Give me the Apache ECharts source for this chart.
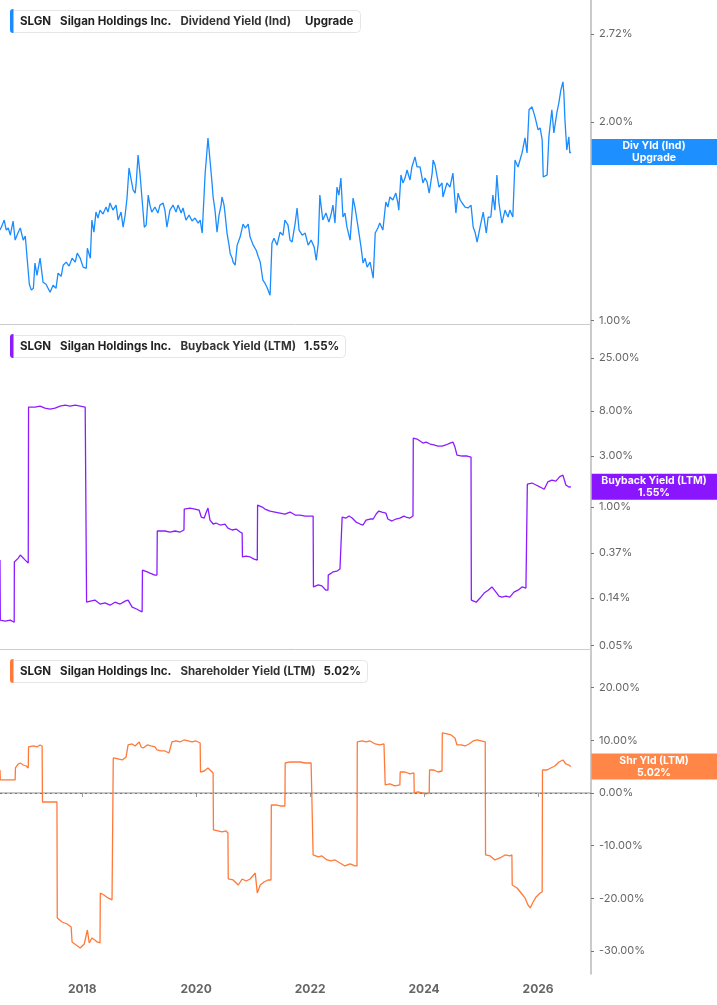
<!DOCTYPE html>
<html>
<head>
<meta charset="utf-8">
<title>SLGN yields</title>
<script src="https://cdn.jsdelivr.net/npm/echarts@6.0.0/dist/echarts.min.js"></script>
<style>
  html, body { margin: 0; padding: 0; background: #fff; }
  #chart { width: 717px; height: 1005px; }
</style>
</head>
<body>
<div id="chart"></div>
<script>
// Dividend Yield (Ind), %
const divDates = [
  '2016-07-23','2016-08-06','2016-08-19','2016-09-01','2016-09-14','2016-09-27','2016-10-15','2016-10-28','2016-11-17','2016-11-30','2016-12-19',
  '2017-01-01','2017-01-14','2017-01-27','2017-02-09','2017-02-22','2017-03-04','2017-03-17','2017-04-06','2017-04-25','2017-05-14','2017-06-09',
  '2017-06-28','2017-07-17','2017-07-30','2017-08-19','2017-09-01','2017-09-20','2017-10-09','2017-10-28','2017-11-17','2017-11-30','2017-12-19',
  '2018-01-07','2018-01-27','2018-02-03','2018-02-22','2018-03-04','2018-03-17','2018-03-30','2018-04-12','2018-04-25','2018-05-14','2018-06-03',
  '2018-06-15','2018-06-28','2018-07-17','2018-08-06','2018-08-19','2018-09-07','2018-09-20','2018-10-03','2018-10-15','2018-10-28','2018-11-11',
  '2018-11-23','2018-12-06','2018-12-12','2018-12-25','2019-01-07','2019-01-20','2019-02-03','2019-02-15','2019-02-28','2019-03-11','2019-03-23',
  '2019-04-12','2019-05-01','2019-05-14','2019-06-03','2019-06-15','2019-06-28','2019-07-17','2019-08-06','2019-08-25','2019-09-07','2019-09-27',
  '2019-10-09','2019-10-28','2019-11-17','2019-12-06','2019-12-25','2020-01-14','2020-01-27','2020-02-09','2020-02-28','2020-03-11','2020-03-17',
  '2020-03-30','2020-04-12','2020-04-19','2020-05-01','2020-05-14','2020-05-27','2020-06-09','2020-06-15','2020-06-28','2020-07-04','2020-07-17',
  '2020-07-30','2020-08-06','2020-08-19','2020-08-25','2020-09-07','2020-09-20','2020-10-09','2020-10-28','2020-11-11','2020-11-30','2020-12-12',
  '2021-01-01','2021-01-20','2021-02-03','2021-02-15','2021-03-04','2021-03-17','2021-03-30','2021-04-19','2021-05-01','2021-05-14','2021-06-03',
  '2021-06-22','2021-07-11','2021-07-23','2021-08-12','2021-08-25','2021-09-07','2021-09-27','2021-10-09','2021-10-22','2021-11-11','2021-11-30',
  '2021-12-19','2022-01-07','2022-01-27','2022-02-09','2022-02-22','2022-03-04','2022-03-23','2022-04-12','2022-05-01','2022-05-14','2022-05-27',
  '2022-06-09','2022-06-22','2022-07-04','2022-07-17','2022-07-30','2022-08-12','2022-08-25','2022-09-14','2022-10-03','2022-10-15','2022-11-04',
  '2022-11-23','2022-12-06','2022-12-19','2023-01-01','2023-01-20','2023-02-09','2023-02-22','2023-03-11','2023-03-23','2023-04-12','2023-05-01',
  '2023-05-14','2023-05-27','2023-06-15','2023-07-04','2023-07-17','2023-07-23','2023-08-06','2023-08-19','2023-09-01','2023-09-14','2023-10-03',
  '2023-10-15','2023-11-04','2023-11-17','2023-12-06','2023-12-25','2024-01-07','2024-01-20','2024-02-03','2024-02-22','2024-02-28','2024-03-11',
  '2024-03-23','2024-04-06','2024-04-25','2024-05-01','2024-05-14','2024-05-27','2024-06-15','2024-07-04','2024-07-23','2024-08-06','2024-08-19',
  '2024-09-01','2024-09-20','2024-10-09','2024-10-28','2024-11-11','2024-11-23','2024-12-06','2024-12-25','2025-01-14','2025-02-03','2025-02-15',
  '2025-03-04','2025-03-17','2025-03-30','2025-04-12','2025-04-25','2025-05-14','2025-06-03','2025-06-22','2025-07-04','2025-07-23','2025-08-06',
  '2025-08-25','2025-09-07','2025-09-20','2025-10-09','2025-10-22','2025-11-04','2025-11-23','2025-12-12','2026-01-01','2026-01-14','2026-01-27',
  '2026-02-03','2026-02-15','2026-02-28','2026-03-11','2026-03-30','2026-04-12','2026-05-01','2026-05-14','2026-05-27','2026-06-09','2026-06-15',
  '2026-06-22','2026-07-04','2026-07-17','2026-07-23','2026-07-30'
]
const divValues = [
  1.371,1.395,1.420,1.371,1.381,1.347,1.415,1.324,1.361,1.381,1.324,
  1.343,1.234,1.135,1.112,1.119,1.222,1.171,1.243,1.143,1.135,1.104,
  1.131,1.119,1.180,1.167,1.213,1.226,1.209,1.243,1.226,1.265,1.243,
  1.205,1.200,1.287,1.243,1.420,1.361,1.460,1.430,1.470,1.450,1.486,
  1.460,1.507,1.470,1.496,1.420,1.460,1.385,1.445,1.533,1.703,1.633,
  1.577,1.560,1.605,1.782,1.662,1.523,1.385,1.395,1.549,1.496,1.460,
  1.486,1.455,1.496,1.507,1.470,1.385,1.470,1.496,1.460,1.496,1.455,
  1.481,1.420,1.445,1.415,1.430,1.405,1.420,1.357,1.673,1.813,1.891,
  1.751,1.616,1.539,1.470,1.361,1.445,1.496,1.539,1.496,1.455,1.357,
  1.301,1.265,1.243,1.226,1.213,1.301,1.338,1.400,1.381,1.400,1.338,
  1.301,1.278,1.248,1.226,1.151,1.139,1.123,1.092,1.310,1.333,1.301,
  1.361,1.347,1.420,1.395,1.324,1.315,1.405,1.481,1.371,1.347,1.357,
  1.301,1.324,1.292,1.234,1.310,1.549,1.420,1.455,1.410,1.445,1.496,
  1.405,1.593,1.549,1.644,1.435,1.455,1.385,1.324,1.533,1.486,1.385,
  1.292,1.222,1.243,1.205,1.226,1.159,1.357,1.381,1.405,1.371,1.512,
  1.486,1.539,1.523,1.560,1.507,1.470,1.662,1.616,1.644,1.691,1.633,
  1.709,1.770,1.709,1.709,1.616,1.644,1.622,1.560,1.673,1.751,1.721,
  1.733,1.593,1.616,1.539,1.577,1.616,1.593,1.673,1.455,1.560,1.523,
  1.507,1.486,1.481,1.496,1.385,1.361,1.315,1.385,1.460,1.357,1.435,
  1.435,1.549,1.470,1.662,1.507,1.405,1.470,1.435,1.470,1.435,1.751,
  1.709,1.751,1.795,1.891,1.795,2.086,2.108,2.035,1.945,1.958,1.878,
  1.650,1.644,1.662,1.898,2.086,1.925,2.064,2.137,2.237,2.300,2.213,
  2.014,1.813,1.898,1.795,1.800
]

// Buyback Yield (LTM), %
const bbDates = [
  '2016-07-23','2016-07-25','2016-08-25','2016-09-27','2016-10-22','2016-10-23','2016-11-17','2016-11-30','2016-12-12','2017-01-01','2017-01-20',
  '2017-01-22','2017-03-04','2017-04-06','2017-05-07','2017-06-09','2017-07-11','2017-08-12','2017-09-14','2017-10-15','2017-11-17','2017-12-19',
  '2018-01-20','2018-01-27','2018-01-29','2018-02-22','2018-03-23','2018-04-25','2018-05-27','2018-06-28','2018-07-30','2018-09-01','2018-10-03',
  '2018-10-22','2018-11-17','2018-12-19','2019-01-07','2019-01-20','2019-01-22','2019-02-22','2019-03-11','2019-04-12','2019-04-25','2019-04-27',
  '2019-06-15','2019-07-17','2019-08-19','2019-09-20','2019-10-15','2019-10-17','2019-11-23','2019-12-25','2020-01-20','2020-02-03','2020-02-22',
  '2020-03-04','2020-03-17','2020-03-30','2020-04-19','2020-05-07','2020-06-03','2020-07-04','2020-07-23','2020-08-19','2020-09-14','2020-10-09',
  '2020-10-22','2020-10-24','2020-11-17','2020-12-12','2021-01-07','2021-01-27','2021-01-29','2021-02-28','2021-03-17','2021-04-19','2021-05-20',
  '2021-06-22','2021-07-23','2021-08-25','2021-09-27','2021-10-28','2021-11-30','2022-01-01','2022-01-20','2022-01-22','2022-02-22','2022-03-17',
  '2022-04-12','2022-04-25','2022-04-27','2022-05-27','2022-06-22','2022-07-11','2022-07-23','2022-07-25','2022-08-19','2022-09-07','2022-09-27',
  '2022-10-22','2022-11-17','2022-12-06','2022-12-25','2023-01-20','2023-02-09','2023-02-28','2023-03-17','2023-04-06','2023-05-01','2023-05-14',
  '2023-06-09','2023-07-04','2023-07-30','2023-08-25','2023-09-07','2023-10-03','2023-10-22','2023-10-24','2023-11-17','2023-12-06','2023-12-25',
  '2024-01-14','2024-02-09','2024-03-04','2024-03-30','2024-04-25','2024-05-20','2024-06-15','2024-07-04','2024-07-17','2024-07-30','2024-09-01',
  '2024-10-03','2024-10-28','2024-10-30','2024-11-30','2024-12-25','2025-01-20','2025-02-15','2025-03-11','2025-04-06','2025-04-25','2025-05-14',
  '2025-06-09','2025-07-04','2025-07-30','2025-08-25','2025-09-20','2025-10-15','2025-10-22','2025-10-24','2025-11-23','2025-12-19','2026-01-14',
  '2026-02-09','2026-03-04','2026-03-30','2026-04-25','2026-05-20','2026-06-09','2026-06-28','2026-07-17','2026-07-30'
]
const bbValues = [
  0.318,0.087,0.085,0.087,0.083,0.305,0.332,0.355,0.340,0.318,0.298,
  8.67,8.67,8.86,8.48,8.30,8.48,8.86,9.05,8.86,9.05,8.86,
  8.67,8.67,0.128,0.131,0.134,0.123,0.126,0.120,0.128,0.123,0.131,
  0.134,0.115,0.110,0.106,0.104,0.256,0.246,0.240,0.230,0.230,0.596,
  0.596,0.583,0.596,0.583,0.609,0.958,0.979,0.958,0.937,0.806,0.788,
  0.878,0.979,0.755,0.693,0.708,0.678,0.693,0.635,0.609,0.622,0.583,
  0.570,0.340,0.347,0.340,0.325,0.318,1.044,1.000,0.958,0.917,0.898,
  0.878,0.860,0.898,0.841,0.841,0.823,0.823,0.823,0.178,0.186,0.182,
  0.166,0.166,0.230,0.246,0.251,0.262,0.256,0.806,0.788,0.823,0.788,
  0.723,0.693,0.678,0.755,0.772,0.772,0.860,0.917,0.898,0.878,0.772,
  0.739,0.772,0.788,0.823,0.806,0.788,0.823,4.44,4.34,4.16,3.98,
  4.07,3.90,3.82,3.73,3.73,3.82,3.98,4.07,3.65,3.07,3.01,
  3.01,2.94,0.134,0.128,0.140,0.156,0.166,0.178,0.159,0.146,0.143,
  0.146,0.143,0.159,0.166,0.178,0.174,0.174,1.64,1.68,1.61,1.54,
  1.47,1.72,1.79,1.75,1.93,1.99,1.61,1.54,1.55
]

// Shareholder Yield (LTM), %
const shrDates = [
  '2016-07-23','2016-07-25','2016-08-25','2016-09-27','2016-10-28','2016-10-30','2016-11-17','2016-11-30','2016-12-19','2017-01-07','2017-01-20',
  '2017-01-22','2017-02-22','2017-03-17','2017-04-06','2017-04-19','2017-04-21','2017-06-09','2017-07-23','2017-07-25','2017-08-25','2017-09-27',
  '2017-10-22','2017-10-28','2017-11-23','2017-12-19','2018-01-14','2018-02-03','2018-02-15','2018-03-04','2018-03-23','2018-04-06','2018-04-25',
  '2018-04-27','2018-05-20','2018-06-15','2018-07-11','2018-07-17','2018-07-19','2018-08-19','2018-09-14','2018-10-09','2018-10-22','2018-11-17',
  '2018-12-06','2019-01-01','2019-01-14','2019-01-27','2019-02-22','2019-03-17','2019-04-12','2019-04-25','2019-05-20','2019-06-15','2019-07-11',
  '2019-07-23','2019-07-30','2019-08-25','2019-09-20','2019-10-15','2019-11-11','2019-12-06','2020-01-01','2020-01-27','2020-01-29','2020-02-22',
  '2020-03-17','2020-04-06','2020-04-19','2020-04-21','2020-05-20','2020-06-15','2020-07-11','2020-07-23','2020-07-25','2020-08-25','2020-09-27',
  '2020-10-22','2020-11-17','2020-12-12','2021-01-14','2021-01-27','2021-02-15','2021-03-11','2021-04-06','2021-04-25','2021-04-27','2021-05-27',
  '2021-06-22','2021-07-23','2021-07-25','2021-08-25','2021-09-27','2021-10-28','2021-11-30','2022-01-07','2022-01-18','2022-01-20','2022-02-22',
  '2022-03-17','2022-04-19','2022-05-14','2022-06-09','2022-07-11','2022-08-12','2022-09-14','2022-10-15','2022-10-28','2022-10-30','2022-11-30',
  '2022-12-25','2023-01-20','2023-02-22','2023-03-23','2023-04-19','2023-04-25','2023-04-27','2023-05-27','2023-06-28','2023-07-30','2023-08-01',
  '2023-09-01','2023-10-03','2023-10-28','2023-10-30','2023-11-23','2023-12-19','2024-01-14','2024-02-03','2024-02-05','2024-03-04','2024-03-30',
  '2024-04-25','2024-04-27','2024-05-27','2024-06-22','2024-07-17','2024-07-30','2024-08-25','2024-09-20','2024-10-15','2024-11-11','2024-12-06',
  '2025-01-01','2025-01-27','2025-01-29','2025-02-28','2025-03-30','2025-05-01','2025-06-03','2025-07-04','2025-07-17','2025-07-19','2025-08-19',
  '2025-09-14','2025-10-09','2025-10-28','2025-11-11','2025-11-30','2025-12-19','2026-01-14','2026-01-27','2026-01-29','2026-02-28','2026-03-23',
  '2026-04-19','2026-05-14','2026-06-09','2026-06-28','2026-07-17','2026-07-30'
]
const shrValues = [
  4.36,2.47,2.47,2.47,2.47,4.74,5.50,5.69,5.31,5.12,4.74,
  8.73,8.92,8.73,9.11,8.92,-1.71,-1.71,-1.71,-23.72,-24.48,-24.86,
  -25.43,-28.27,-28.84,-29.41,-28.65,-26.00,-28.46,-27.51,-27.89,-28.27,-28.46,
  -18.98,-19.35,-19.92,-20.30,-20.30,6.64,6.45,6.26,6.83,9.11,9.30,
  8.92,9.68,8.73,8.54,9.11,8.92,8.73,8.16,7.97,7.97,7.59,
  7.78,9.68,9.87,9.68,10.06,9.87,9.68,9.87,9.49,3.98,4.17,
  4.74,4.17,3.80,-7.02,-7.21,-7.40,-7.21,-7.59,-16.32,-16.51,-17.46,
  -16.32,-16.70,-16.32,-15.18,-18.98,-17.46,-16.89,-16.51,-16.51,-2.28,-2.28,
  -2.47,-2.47,5.69,5.88,5.88,5.88,5.69,5.69,5.69,-11.76,-12.14,
  -11.95,-12.71,-12.90,-12.71,-13.28,-13.85,-13.47,-13.85,-13.85,9.68,9.87,
  9.68,9.87,9.30,9.11,9.30,9.11,1.52,1.71,1.33,1.52,3.98,
  3.98,3.61,3.80,0,0.19,0,-0.19,0,4.36,4.36,3.98,
  4.17,11.39,11.20,11.01,10.44,9.11,9.11,8.92,9.30,9.87,10.06,
  9.87,9.68,-11.76,-11.95,-12.71,-12.33,-11.76,-11.95,-11.76,-17.46,-18.03,
  -18.98,-19.92,-21.25,-21.82,-20.68,-19.73,-18.98,-18.79,4.36,4.36,4.74,
  5.12,5.88,6.26,5.50,5.31,5.02
]

const yearTicks = ['2018-01-01', '2020-01-01', '2022-01-01', '2024-01-01', '2026-01-01']
const divTicks = [0.99, 1, 2, 2.72]
const bbTicks = [0.05, 0.14, 0.37, 1, 3, 8, 25]
const shrTicks = [-30, -20, -10, 0, 10, 20]

const panels = [
  { metric: 'Dividend Yield (Ind)', last: 'Upgrade', tag: 'Div Yld (Ind)\nUpgrade', color: '#1a8cff', tagColor: '#1e8fff',
    dates: divDates, values: divValues, ticks: divTicks, type: 'log', min: 0.988, max: 3.06 },
  { metric: 'Buyback Yield (LTM)', last: '1.55%', tag: 'Buyback Yield (LTM)\n1.55%', color: '#8c1cff', tagColor: '#8a16ff',
    dates: bbDates, values: bbValues, ticks: bbTicks, type: 'log', min: 0.0466, max: 51 },
  { metric: 'Shareholder Yield (LTM)', last: '5.02%', tag: 'Shr Yld (LTM)\n5.02%', color: '#ff7a3a', tagColor: '#ff8647',
    dates: shrDates, values: shrValues, ticks: shrTicks, type: 'value', min: -34.35, max: 27.13 }
]

const tops = [0, 325, 650]
const panelH = 324
const plotRight = 126
const font = 'Inter, "Noto Sans", sans-serif'
const ts = d => Date.parse(d)
const year = v => new Date(v).getUTCFullYear()

const chart = echarts.init(document.getElementById('chart'))

const option = {
  animation: false,
  backgroundColor: '#fff',
  title: panels.map((p, i) => ({
    left: 10,
    top: tops[i] + 9,
    padding: [6, 7, 5, 10],
    backgroundColor: '#fff',
    borderColor: '#e6e6e6',
    borderWidth: 1,
    borderRadius: 4,
    text: `{b|SLGN}{b2|Silgan Holdings Inc.}{n|${p.metric}}{v|${p.last}}`,
    textStyle: {
      rich: {
        b: { fontFamily: font, fontSize: 11.5, fontWeight: 'bold', color: '#222', lineHeight: 14 },
        b2: { fontFamily: font, fontSize: 11.5, fontWeight: 'bold', color: '#222', lineHeight: 14, padding: [0, 0, 0, 9] },
        n: { fontFamily: font, fontSize: 11.5, color: '#333', lineHeight: 14, padding: [0, 0, 0, 9] },
        v: { fontFamily: font, fontSize: 11.5, fontWeight: 'bold', color: '#222', lineHeight: 14, padding: [0, 0, 0, i === 0 ? 14 : 8] }
      }
    }
  })),
  grid: tops.map(t => ({ left: 0, right: plotRight, top: t, height: panelH })),
  xAxis: panels.map((p, i) => ({
    type: 'value',
    gridIndex: i,
    min: ts('2016-07-23'),
    max: ts('2026-12-06'),
    splitLine: { show: false },
    axisLine: { show: true, lineStyle: { color: i === 2 ? '#b4b4b4' : '#cccccc', width: i === 2 ? 1.5 : 1 } },
    axisTick: i === 2
      ? { show: true, length: 4, lineStyle: { color: '#999' }, customValues: yearTicks.map(ts) }
      : { show: false },
    axisLabel: i === 2
      ? {
          show: true, margin: 9, color: '#666', fontFamily: font, fontSize: 12, fontWeight: 'bold',
          customValues: yearTicks.map(ts),
          formatter: v => String(year(v))
        }
      : { show: false }
  })),
  yAxis: panels.map((p, i) => ({
    type: p.type,
    logBase: Math.E,
    gridIndex: i,
    position: 'right',
    min: p.min,
    max: p.max,
    splitLine: { show: false },
    axisLine: { show: true, lineStyle: { color: '#b8b8b8', width: 1.5 } },
    axisTick: { show: true, length: 3, lineStyle: { color: '#777' }, customValues: p.ticks },
    axisLabel: {
      margin: 8, color: '#666', fontFamily: font, fontSize: 11, hideOverlap: false,
      customValues: p.ticks,
      formatter: v => v.toFixed(2) + '%'
    }
  })),
  series: panels.map((p, i) => ({
    type: 'line',
    xAxisIndex: i,
    yAxisIndex: i,
    data: p.dates.map((d, k) => [ts(d), p.values[k]]),
    showSymbol: false,
    symbol: 'none',
    lineStyle: { color: p.color, width: 1.3 },
    itemStyle: { color: p.color },
    markLine: i === 2 ? {
      silent: true, symbol: 'none', label: { show: false },
      lineStyle: { color: '#777', type: [2, 3], width: 1 },
      data: [{ yAxis: 0 }]
    } : undefined
  }))
}

chart.setOption(option)

// value tags on the axis + colour bars of the legend boxes
const graphics = []
panels.forEach((p, i) => {
  graphics.push({
    type: 'rect', z: 100,
    shape: { x: 10, y: tops[i] + 9, width: 3.5, height: 24, r: [3, 0, 0, 3] },
    style: { fill: p.color }
  })
  const n = p.dates.length - 1
  const py = chart.convertToPixel({ gridIndex: i }, [ts(p.dates[n]), p.values[n]])[1]
  graphics.push({
    type: 'group', z: 100, x: 717 - plotRight, y: py - 13,
    children: [
      { type: 'rect', shape: { x: 0, y: 0, width: plotRight, height: 26 }, style: { fill: p.tagColor } },
      { type: 'text', style: { text: p.tag, x: plotRight / 2, y: 13, align: 'center', verticalAlign: 'middle',
        fill: '#fff', font: 'bold 10.5px ' + font, lineHeight: 12 } }
    ]
  })
})
chart.setOption({ graphic: graphics })
</script>
</body>
</html>
